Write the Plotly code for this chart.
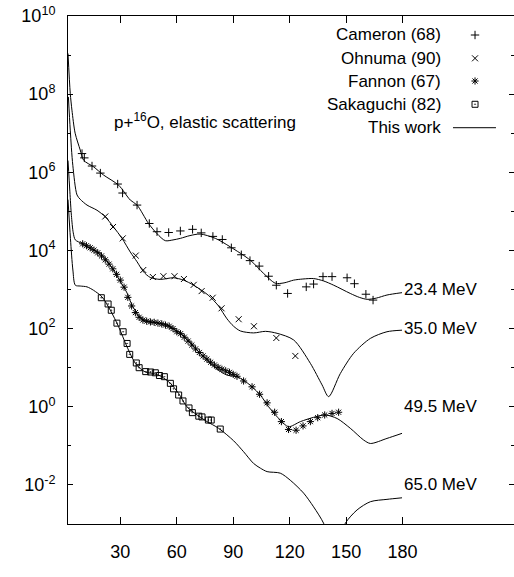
import math
import plotly.graph_objects as go

# ---- p + 16O elastic scattering: angular distributions (offset per energy) ----

# 23.4 MeV, Cameron (68)
cameron_deg = [9.65, 10.87, 14.96, 19.4, 28.6, 31.2, 38.9, 45.4, 49.5, 55.7, 61.9, 68.4,
               73.0, 79.2, 84.2, 89.0, 94.3, 98.9, 103.8, 108.8, 112.9, 118.9, 128.8,
               132.7, 137.7, 142.5, 150.5, 154.4, 160.5, 164.3]
cameron_xs = [3.02e6, 2.34e6, 1.45e6, 9.55e5, 5.01e5, 2.95e5, 1.45e5, 4.90e4, 3.02e4, 2.88e4,
              3.16e4, 3.47e4, 2.82e4, 2.29e4, 1.91e4, 1.17e4, 7.76e3, 5.50e3, 3.98e3,
              2.19e3, 1.29e3, 7.94e2, 1.17e3, 1.38e3, 2.14e3, 2.14e3, 2.00e3, 1.41e3,
              7.59e2, 5.37e2]

# 35.0 MeV, Ohnuma (90)
ohnuma_deg = [22.0, 26.1, 31.3, 38.2, 42.2, 47.3, 52.9, 58.8, 63.8, 69.0, 73.2, 79.1,
              83.8, 92.9, 101.0, 112.9, 123.0]
ohnuma_xs = [7.41e4, 3.98e4, 2.04e4, 7.41e3, 3.16e3, 2.09e3, 2.19e3, 2.19e3, 1.86e3,
             1.32e3, 9.12e2, 6.17e2, 3.31e2, 1.74e2, 1.15e2, 57.5, 20.0]

# 49.5 MeV, Fannon (67)
fannon_deg = [10, 12, 14, 16, 18, 20, 22, 24, 26, 28, 30, 32, 34, 36, 38, 40, 42, 44, 46,
              48, 50, 52, 54, 56, 58, 60, 62, 64, 66, 68, 70, 72, 74, 76, 78, 80, 82, 84,
              86, 88, 90, 92, 95.5, 100, 104, 108, 112, 115.6, 119.4, 123.4, 127.1, 131,
              134.9, 138.6, 142.5, 146]
fannon_xs = [1.48e4, 1.32e4, 1.17e4, 1.02e4, 8.71e3, 7.24e3, 5.75e3, 4.47e3, 3.39e3,
             2.45e3, 1.74e3, 1.15e3, 6.31e2, 3.80e2, 2.57e2, 1.95e2, 1.66e2, 1.55e2,
             1.48e2, 1.45e2, 1.38e2, 1.32e2, 1.23e2, 1.15e2, 1.00e2, 83.2, 74.1, 60.3,
             47.9, 38.0, 30.2, 24.5, 20.0, 16.6, 13.8, 11.7, 10.2, 9.12, 8.32, 7.59, 6.76,
             6.03, 4.57, 3.24, 2.09, 1.26, 0.724, 0.417, 0.263, 0.251, 0.324, 0.417,
             0.525, 0.617, 0.676, 0.724]

# 65.0 MeV, Sakaguchi (82)
sakaguchi_deg = [19.9, 23.5, 25.2, 28.2, 31.5, 33.6, 35.0, 38.5, 40.0, 43.5, 46.1, 48.6,
                 50.8, 53.4, 56.6, 58.3, 61.0, 63.3, 66.5, 68.3, 71.7, 73.4, 76.8, 78.3, 83.1]
sakaguchi_xs = [6.17e2, 4.27e2, 2.95e2, 1.38e2, 83.2, 41.7, 21.9, 13.2, 10.0, 7.94, 7.76,
                7.41, 6.31, 5.89, 3.98, 2.88, 2.00, 1.41, 0.933, 0.708, 0.575, 0.550,
                0.457, 0.457, 0.269]

# Calculations ("This work")
theory_234_deg = [2.2, 3.4, 4.3, 6.0, 8.7, 10.5, 15.8, 21.1, 29.1, 35.3, 38.9, 45.0, 49.5,
                  53.9, 58.0, 61.9, 67.0, 72.5, 80.5, 88.5, 99.1, 106.2, 112.4, 117.0,
                  122.1, 127.0, 132.7, 138.0, 143.4, 152.2, 157.0, 161.1, 166.0, 171.7, 179.7]
theory_234_xs = [1.10e9, 1.05e8, 3.89e7, 1.0e7, 3.72e6, 2.04e6, 1.38e6, 8.51e5, 4.68e5,
                 1.95e5, 1.45e5, 4.90e4, 2.69e4, 1.78e4, 1.86e4, 2.04e4, 2.40e4, 2.63e4,
                 2.04e4, 1.23e4, 5.62e3, 2.57e3, 1.45e3, 1.48e3, 1.74e3, 1.86e3, 1.91e3,
                 1.66e3, 1.29e3, 7.94e2, 6.31e2, 5.62e2, 6.03e2, 7.24e2, 8.32e2]

theory_350_deg = [2.4, 3.4, 4.76, 7.0, 8.7, 12.3, 17.6, 22.0, 26.4, 30.9, 35.3, 38.9, 42.4,
                  45.9, 51.2, 58.3, 63.6, 69.0, 76.1, 79.6, 82.2, 86.7, 90.2, 93.8, 100.8,
                  107.1, 113.3, 122.1, 131.0, 137.2, 140.7, 146.9, 154.0, 162.9, 171.7, 179.7]
theory_350_xs = [8.51e7, 1.20e7, 1.51e6, 2.63e5, 2.04e5, 1.45e5, 1.07e5, 7.24e4, 3.98e4,
                 2.04e4, 9.12e3, 5.13e3, 2.82e3, 2.04e3, 1.82e3, 2.00e3, 1.74e3, 1.29e3,
                 7.59e2, 5.25e2, 3.80e2, 1.78e2, 1.15e2, 87.1, 77.6, 85.1, 75.9, 51.3,
                 12.9, 3.63, 1.82, 7.08, 23.4, 56.2, 83.2, 91.2]

theory_495_deg = [2.2, 3.2, 4.0, 5.0, 6.1, 9.65, 14.1, 19.4, 24.7, 29.1, 33.6, 36.2, 39.7,
                  43.3, 49.5, 54.8, 60.8, 65.4, 70.8, 76.1, 82.1, 86.7, 92.0, 95.5, 100.0,
                  104.4, 108.8, 115.0, 119.4, 125.7, 132.7, 138.9, 145.2, 152.2, 159.3,
                  162.9, 171.7, 179.7]
theory_495_xs = [2.0e6, 3.16e5, 7.94e4, 2.82e4, 1.86e4, 1.51e4, 1.12e4, 8.32e3, 4.17e3,
                 1.91e3, 8.13e2, 3.98e2, 2.19e2, 1.58e2, 1.41e2, 1.23e2, 83.2, 56.2, 28.2,
                 15.5, 8.71, 6.46, 5.89, 4.79, 3.24, 2.00, 1.00, 0.457, 0.309, 0.417,
                 0.537, 0.617, 0.501, 0.282, 0.141, 0.115, 0.155, 0.209]

theory_650_deg = [2.2, 3.5, 4.8, 6.1, 8.7, 12.3, 15.8, 20.3, 24.7, 29.1, 33.6, 38.0, 40.6,
                  43.3, 47.5, 51.2, 56.6, 61.0, 65.4, 70.8, 76.1, 82.2, 90.2, 95.5, 100.8,
                  104.4, 108.0, 115.0, 120.3, 127.4, 132.7, 138.0, 141.0, 143.5, 146.5,
                  149.6, 155.8, 162.9, 171.7, 179.7]
theory_650_xs = [2.0e5, 2.0e4, 3.16e3, 1.29e3, 1.23e3, 1.17e3, 9.55e2, 6.46e2, 2.95e2,
                 1.12e2, 33.9, 12.9, 9.55, 7.76, 7.08, 6.17, 3.98, 2.19, 1.0, 0.617,
                 0.417, 0.282, 0.135, 0.0708, 0.0355, 0.0269, 0.0219, 0.0200, 0.0132,
                 6.17e-3, 2.75e-3, 1.05e-3, 3.98e-4, 1.58e-4, 3.98e-4, 1.05e-3, 2.29e-3,
                 3.72e-3, 4.27e-3, 4.68e-3]

# Energy labels placed at the end of each calculated curve
energy_labels = ["23.4 MeV", "35.0 MeV", "49.5 MeV", "65.0 MeV"]
energy_label_y = [1e3, 1e2, 1e0, 1e-2]
energy_label_x = 180

legend_names = ["Cameron (68)", "Ohnuma (90)", "Fannon (67)", "Sakaguchi (82)", "This work"]

x_ticks = [30, 60, 90, 120, 150, 180]
y_major = [1e-2, 1e0, 1e2, 1e4, 1e6, 1e8, 1e10]
y_major_text = ["10<sup>-2</sup>", "10<sup>0</sup>", "10<sup>2</sup>", "10<sup>4</sup>",
                "10<sup>6</sup>", "10<sup>8</sup>", "10<sup>10</sup>"]
y_minor = [1e-1, 1e1, 1e3, 1e5, 1e7, 1e9]

FONT = "Liberation Sans, Arial, Helvetica, sans-serif"
FS = 17
INK = "black"

symbols = [
    dict(symbol="cross-thin-open", size=6, line=dict(width=1, color=INK), color=INK),
    dict(symbol="x-thin-open", size=6, line=dict(width=1, color=INK), color=INK),
    dict(symbol="asterisk-open", size=6, line=dict(width=1, color=INK), color=INK),
    dict(symbol="square-open-dot", size=6, line=dict(width=1, color=INK), color=INK),
]

fig = go.Figure()

line_style = dict(color=INK, width=1, shape="spline", smoothing=0.8)
for xs_deg, xs_val in [(theory_234_deg, theory_234_xs), (theory_350_deg, theory_350_xs),
                       (theory_495_deg, theory_495_xs), (theory_650_deg, theory_650_xs)]:
    fig.add_trace(go.Scatter(x=xs_deg, y=xs_val, mode="lines", line=line_style,
                             showlegend=False, hoverinfo="skip"))

for (d, v), m in zip([(cameron_deg, cameron_xs), (ohnuma_deg, ohnuma_xs),
                      (fannon_deg, fannon_xs), (sakaguchi_deg, sakaguchi_xs)], symbols):
    fig.add_trace(go.Scatter(x=d, y=v, mode="markers", marker=m, showlegend=False,
                             cliponaxis=True))

# Key (text on the left, sample on the right), drawn on an overlay in plot-area fractions
key_rows_y = [0.9626, 0.9167, 0.8720, 0.8262, 0.7801]
key_text_x = 0.8401
key_mark_x = 0.9126
for name, yy in zip(legend_names, key_rows_y):
    fig.add_annotation(x=key_text_x, y=yy, xref="paper", yref="paper", text=name,
                       showarrow=False, xanchor="right", yanchor="middle",
                       font=dict(family=FONT, size=FS, color=INK))
for m, yy in zip(symbols, key_rows_y[:4]):
    fig.add_trace(go.Scatter(x=[key_mark_x], y=[yy], xaxis="x2", yaxis="y2",
                             mode="markers", marker=m, showlegend=False, hoverinfo="skip"))
fig.add_shape(type="line", xref="paper", yref="paper", x0=0.8632, x1=0.9596,
              y0=key_rows_y[4], y1=key_rows_y[4], line=dict(color=INK, width=1))

fig.add_annotation(x=0.098, y=0.793, xref="paper", yref="paper",
                   text="p+<sup>16</sup>O, elastic scattering", showarrow=False,
                   xanchor="left", yanchor="middle",
                   font=dict(family=FONT, size=FS, color=INK))

for lab, yv in zip(energy_labels, energy_label_y):
    fig.add_annotation(x=energy_label_x, y=math.log10(yv), xref="x", yref="y", text=lab,
                       showarrow=False, xanchor="left", yanchor="middle", xshift=-1,
                       font=dict(family=FONT, size=FS, color=INK))

fig.update_layout(
    width=514, height=577,
    margin=dict(l=68, r=0, t=16, b=53),
    paper_bgcolor="white", plot_bgcolor="white",
    font=dict(family=FONT, size=FS, color=INK),
    showlegend=False,
    xaxis=dict(range=[2.2, 239.2], tickmode="array", tickvals=x_ticks,
               ticks="inside", ticklen=7, tickwidth=1, tickcolor=INK,
               showline=True, linecolor=INK, linewidth=1, mirror="ticks",
               showgrid=False, zeroline=False, ticklabelstandoff=11,
               tickfont=dict(family=FONT, size=FS + 1, color=INK)),
    yaxis=dict(type="log", range=[-3, 10], tickmode="array", tickvals=y_major,
               ticktext=y_major_text, ticks="inside", ticklen=5, tickwidth=1,
               tickcolor=INK, showline=True, linecolor=INK, linewidth=1, mirror="ticks",
               showgrid=False, zeroline=False, ticklabelstandoff=8,
               tickfont=dict(family=FONT, size=FS + 1, color=INK),
               minor=dict(tickmode="array", tickvals=y_minor, ticks="inside",
                          ticklen=3, tickcolor=INK, showgrid=False)),
    xaxis2=dict(overlaying="x", anchor="y2", range=[0, 1], visible=False),
    yaxis2=dict(overlaying="y", anchor="x2", range=[0, 1], visible=False),
)

fig.write_html("out.html")
